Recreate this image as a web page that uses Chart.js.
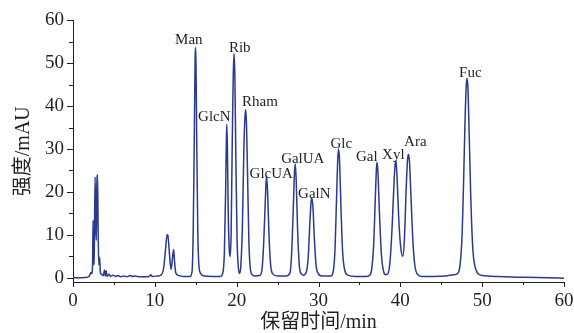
<!DOCTYPE html>
<html>
<head>
<meta charset="utf-8">
<script src="https://cdn.jsdelivr.net/npm/chart.js@4.4.1/dist/chart.umd.min.js"></script>
<style>
  html, body { margin: 0; padding: 0; background: #fff; }
  #wrap { width: 574px; height: 333px; position: relative; }
</style>
</head>
<body>
<div id="wrap"><canvas id="chromChart"></canvas></div>
<script>
// ===== DATA =====
// retention time (min) and detector signal (mAU), point by point
const retentionTime = [
  0, 1.5, 2.0, 2.2, 2.3, 2.4, 2.45, 2.52, 2.6, 2.7, 2.78, 2.85, 2.92, 3.0, 3.08, 3.15, 3.25, 3.35, 3.5, 3.7,
  3.85, 3.95, 4.05, 4.15, 4.4, 4.6, 4.9, 5.2, 5.5, 5.8, 6.2, 6.6, 7.0, 7.3, 7.6, 8.0, 8.6, 9.3, 9.5, 9.7,
  10.3, 10.8, 11.1, 11.3, 11.5, 11.6, 11.75, 11.9, 12.0, 12.15, 12.3, 12.4, 12.55, 12.8, 13.5,
  14.3, 14.55, 14.7, 14.82, 14.92, 14.97, 15.03, 15.13, 15.25, 15.38, 15.6, 16.0, 17.0, 18.0,
  18.3, 18.5, 18.65, 18.75, 18.8, 18.87, 18.97, 19.1, 19.2,
  19.32, 19.45, 19.58, 19.68, 19.78, 19.9, 20.05, 20.2, 20.35,
  20.5, 20.7, 20.88, 21.0, 21.1, 21.2, 21.35, 21.5, 21.65, 21.85, 22.2,
  22.8, 23.1, 23.3, 23.5, 23.65, 23.8, 23.95, 24.15, 24.4, 25.0, 26.0,
  26.5, 26.7, 26.9, 27.05, 27.15, 27.27, 27.45, 27.65, 27.9, 28.2,
  28.5, 28.75, 28.95, 29.1, 29.2, 29.32, 29.5, 29.7, 29.95, 30.4,
  31.5, 31.8, 32.0, 32.2, 32.35, 32.46, 32.58, 32.75, 32.95, 33.2, 33.6, 34.5, 35.8,
  36.2, 36.5, 36.75, 36.95, 37.08, 37.15, 37.25, 37.45, 37.7, 37.95, 38.2,
  38.5, 38.75, 39.0, 39.25, 39.4, 39.47, 39.6, 39.8, 40.05, 40.3,
  40.5, 40.7, 40.88, 41.0, 41.12, 41.3, 41.55, 41.8, 42.1, 42.6,
  44.0, 45.5, 46.5, 47.0, 47.3, 47.55, 47.7, 47.9, 48.05, 48.15, 48.27, 48.42, 48.62, 48.85, 49.1, 49.4,
  50.0, 52.0, 55.0, 58.0, 60.0
];
const signalMAU = [
  0, 0.05, 0.4, 1.2, 1.0, 4, 13.4, 3, 6, 23.5, 12, 8.7, 22, 24.0, 10, 3, 4.8, 1.2, 0.8, 0.5,
  1.8, 0.4, 1.6, 0.3, 0.8, 0.3, 0.6, 0.3, 0.5, 0.2, 0.4, 0.2, 0.5, 0.3, 0.4, 0.2, 0.2, 0.3, 0.7, 0.3,
  0.4, 0.7, 2.5, 6.5, 10, 9.8, 6.5, 3, 2.0, 4.5, 6.6, 4, 1.2, 0.6, 0.3,
  0.3, 1.5, 12, 32, 51, 53.7, 50, 30, 11, 3, 1, 0.4, 0.3, 0.3,
  1, 6, 20, 33, 35.8, 30, 15, 6.5, 4.9,
  10, 30, 47, 52.3, 47, 28, 9, 2.5, 1.0,
  2.5, 12, 30, 37, 39.2, 36, 22, 8, 2.5, 0.8, 0.4,
  0.5, 2, 8, 18, 23.8, 19, 10, 3, 0.9, 0.4, 0.4,
  1, 5, 15, 24, 26.6, 23, 11, 3, 0.9, 0.6,
  1.2, 5, 13, 17.8, 18.6, 16.5, 9, 3, 1, 0.4,
  0.4, 1.5, 6, 18, 27.5, 30, 27, 16, 6, 1.8, 0.6, 0.3, 0.3,
  0.5, 2, 8, 19, 25.5, 26.9, 25, 15, 5, 1.5, 0.7,
  1, 4, 12, 23, 27, 27.3, 23.5, 14, 7, 5.0,
  9, 20, 27.5, 28.8, 27, 19, 8, 2.5, 0.8, 0.3,
  0.3, 0.4, 0.7, 1.0, 3, 10, 20, 36, 44.5, 46.5, 44, 33, 18, 7, 2.8, 1.2,
  0.5, 0.3, 0.1, 0.0, -0.1
];

// peak labels: name, where the label sits (min, mAU)
const peakNames = ["Man", "GlcN", "Rib", "Rham", "GlcUA", "GalUA", "GalN", "Glc", "Gal", "Xyl", "Ara", "Fuc"];
const peakLabelTime = [14.15, 17.27, 20.38, 22.85, 24.23, 28.08, 29.49, 32.79, 35.9, 39.14, 41.83, 48.55];
const peakLabelMAU = [54.4, 36.5, 52.7, 40.0, 23.3, 26.8, 18.7, 30.3, 27.3, 27.7, 30.7, 46.7];

// axis ticks
const xMajorTicks = [0, 10, 20, 30, 40, 50, 60];
const xMinorTicks = [5, 15, 25, 35, 45, 55];
const yMajorTicks = [0, 10, 20, 30, 40, 50, 60];
const yMinorTicks = [5, 15, 25, 35, 45, 55];

const SERIF = "'Liberation Serif', 'Noto Sans CJK SC', serif";
const INK = "#231f20";

/* =========================
   TICK MARKS, X LABELS, PEAK LABELS
========================= */
const chromPlugin = {
  id: "chromPlugin",
  afterDraw(chart) {
    const ctx = chart.ctx;
    const xs = chart.scales.x;
    const ys = chart.scales.y;
    const area = chart.chartArea;

    ctx.save();
    ctx.strokeStyle = INK;
    ctx.lineWidth = 1;
    ctx.beginPath();
    xMajorTicks.forEach(v => {
      const px = Math.round(xs.getPixelForValue(v)) + 0.5;
      ctx.moveTo(px, area.bottom);
      ctx.lineTo(px, area.bottom + 5);
    });
    xMinorTicks.forEach(v => {
      const px = Math.round(xs.getPixelForValue(v)) + 0.5;
      ctx.moveTo(px, area.bottom);
      ctx.lineTo(px, area.bottom + 3);
    });
    yMajorTicks.forEach(v => {
      const py = Math.round(ys.getPixelForValue(v)) + 0.5;
      ctx.moveTo(area.left, py);
      ctx.lineTo(area.left - 6, py);
    });
    yMinorTicks.forEach(v => {
      const py = Math.round(ys.getPixelForValue(v)) + 0.5;
      ctx.moveTo(area.left, py);
      ctx.lineTo(area.left - 4, py);
    });
    ctx.stroke();

    ctx.fillStyle = INK;
    ctx.textAlign = "center";

    // x tick labels
    ctx.font = "19px " + SERIF;
    ctx.textBaseline = "middle";
    xMajorTicks.forEach(v => {
      ctx.fillText(String(v), xs.getPixelForValue(v), area.bottom + 19);
    });

    // peak names
    ctx.font = "15px " + SERIF;
    ctx.textBaseline = "alphabetic";
    peakNames.forEach((name, i) => {
      ctx.fillText(name, xs.getPixelForValue(peakLabelTime[i]), ys.getPixelForValue(peakLabelMAU[i]));
    });
    ctx.restore();
  }
};

/* =========================
   CHART
========================= */
const points = retentionTime.map((t, i) => ({ x: t, y: signalMAU[i] }));

new Chart(document.getElementById("chromChart"), {
  type: "line",
  data: {
    datasets: [
      {
        data: points,
        borderColor: "#2b3990",
        borderWidth: 1.5,
        pointRadius: 0,
        fill: false,
        cubicInterpolationMode: "monotone"
      }
    ]
  },
  options: {
    responsive: true,
    maintainAspectRatio: false,
    animation: false,
    devicePixelRatio: 1,
    layout: { padding: { left: 8, right: 10, top: 18, bottom: 0 } },
    plugins: { legend: { display: false }, tooltip: { enabled: false } },
    scales: {
      x: {
        type: "linear",
        min: 0,
        max: 60,
        ticks: { display: false },
        grid: { drawOnChartArea: false, drawTicks: false },
        border: { display: true, color: INK, width: 1 },
        title: {
          display: true,
          text: "保留时间/min",
          font: { family: SERIF, size: 20, lineHeight: 1 },
          color: INK,
          padding: { top: 31, bottom: 0 }
        }
      },
      y: {
        type: "linear",
        min: -1,
        max: 60,
        afterBuildTicks: scale => { scale.ticks = yMajorTicks.map(v => ({ value: v })); },
        ticks: {
          font: { family: SERIF, size: 19 },
          color: INK,
          padding: 9
        },
        grid: { drawOnChartArea: false, drawTicks: false },
        border: { display: true, color: INK, width: 1 },
        title: {
          display: true,
          text: "强度/mAU",
          font: { family: SERIF, size: 20, lineHeight: 1.2 },
          color: INK,
          padding: { top: 4, bottom: 0 }
        }
      }
    }
  },
  plugins: [chromPlugin]
});
</script>
</body>
</html>
